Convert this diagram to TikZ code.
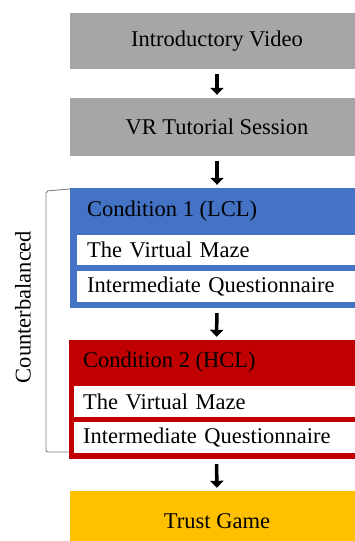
\documentclass[tikz,border=0pt]{standalone}
\usepackage{fontspec}
\setmainfont{Liberation Serif}
\usetikzlibrary{arrows.meta}

\definecolor{stagegray}{RGB}{166,166,166}
\definecolor{lclblue}{RGB}{68,114,196}
\definecolor{hclred}{RGB}{192,0,0}
\definecolor{trustgold}{RGB}{255,192,0}

\tikzset{
	stagebox/.style={rectangle, fill=#1, minimum width=294pt, inner sep=0pt},
	itembox/.style={rectangle, fill=white, anchor=west, minimum height=30pt,
		inner xsep=10pt, inner ysep=0pt, text width=260pt, align=left},
	flowarrow/.style={-{Triangle[width=13pt,length=7pt]}, line width=3.5pt,
		shorten <=5pt, shorten >=3pt}
}

\begin{document}
\begin{tikzpicture}[x=1pt, y=-1pt, font=\fontsize{22.5}{27}\selectfont]
				\clip (0,0) rectangle (355,541);

				% preparation
				\node[stagebox=stagegray, minimum height=56pt] (intro) at (217,41) {Introductory Video};
				\node[stagebox=stagegray, minimum height=58pt] (tutorial) at (217,127) {VR Tutorial Session};

				% condition 1 (blue)
				\node[stagebox=lclblue, minimum height=120pt] (lcl) at (217,248) {};
				\node[anchor=west, inner sep=0pt] (lclhead) at (87,211) {Condition 1 (LCL)};
				\node[itembox, minimum width=280pt] (lclmaze) at (77,250) {The Virtual Maze};
				\node[itembox, minimum width=280pt, minimum height=31pt] (lclquest) at (77,286.5) {Intermediate Questionnaire};

				% condition 2 (red)
				\node[stagebox=hclred, minimum width=295pt, minimum height=119pt] (hcl) at (216.5,399.5) {};
				\node[anchor=west, inner sep=0pt] (hclhead) at (83,362) {Condition 2 (HCL)};
				\node[itembox, minimum width=283pt, minimum height=31pt, inner xsep=9pt, text width=265pt] (hclmaze) at (74,401.5) {The Virtual Maze};
				\node[itembox, minimum width=283pt, minimum height=31pt, inner xsep=9pt, text width=265pt] (hclquest) at (74,437.5) {Intermediate Questionnaire};

				% final stage
				\node[stagebox=trustgold, minimum height=60pt] (trust) at (217,521) {Trust Game};

				% arrows
				\draw[flowarrow] (intro.south) -- (tutorial.north);
				\draw[flowarrow] (tutorial.south) -- (lcl.north);
				\draw[flowarrow] (lcl.south) -- (hcl.north);
				\draw[flowarrow] (hcl.south) -- (trust.north);

				% counterbalancing bracket
				\coordinate (cbtop) at (70,189);
				\coordinate (cbbot) at (69,452);
				\draw[gray, line width=0.9pt, rounded corners=2pt] (cbtop) -- (46,191) -- (46,452) -- (cbbot);
				\node[rotate=90, inner sep=0pt] (cblabel) at (23,307) {Counterbalanced};
			\end{tikzpicture}
\end{document}
